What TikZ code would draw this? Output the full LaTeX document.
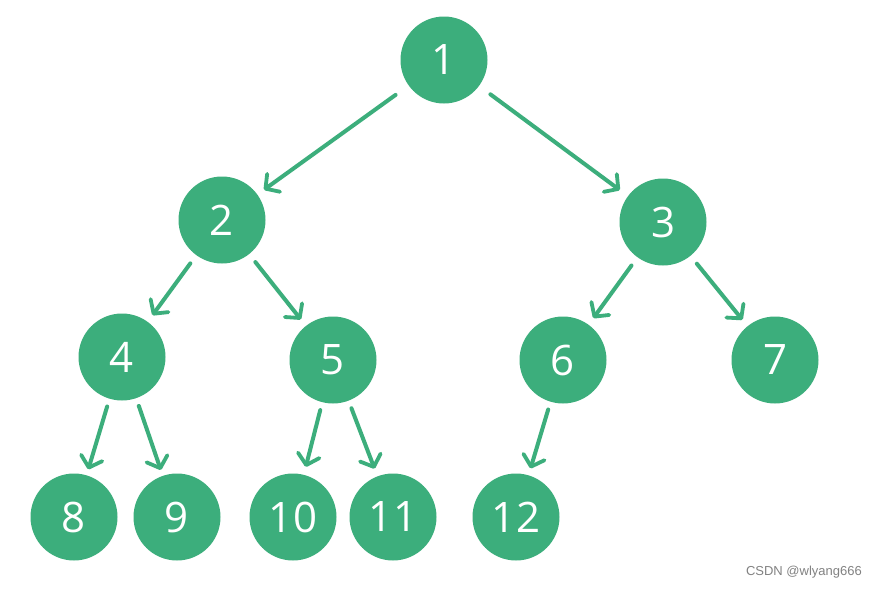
\documentclass[tikz,border=0pt]{standalone}
\usepackage{fontspec}
\setmainfont{Open Sans}
\newfontfamily\wmfont{Liberation Sans}
\usetikzlibrary{arrows.meta}
\definecolor{tgreen}{RGB}{60,174,124}
\definecolor{wmgray}{RGB}{130,130,130}
\tikzset{
  tnode/.style={circle, fill=tgreen, minimum size=87pt, inner sep=0pt,
    text=white, font=\fontsize{42}{42}\selectfont},
  tarrow/.style={draw=tgreen, line width=4pt, line cap=round,
    -{Straight Barb[length=10pt,width=22pt,line width=3.8pt,round]}},
}
\begin{document}
\begin{tikzpicture}[x=1pt,y=-1pt]
\useasboundingbox (0,0) rectangle (878,589);
\fill[white] (0,0) rectangle (878,589);
\node[tnode] (n1) at (444,60) {1};
\node[tnode] (n2) at (222,220) {2};
\node[tnode] (n3) at (663,222) {3};
\node[tnode] (n4) at (122,357) {4};
\node[tnode] (n5) at (333,360) {5};
\node[tnode] (n6) at (563,360) {6};
\node[tnode] (n7) at (775,360) {7};
\node[tnode] (n8) at (74,517) {8};
\node[tnode] (n9) at (177,517) {9};
\node[tnode] (n10) at (293,517) {10};
\node[tnode] (n11) at (393,517) {11};
\node[tnode] (n12) at (516,517) {12};
\draw[tarrow, shorten <=16pt, shorten >=8pt] (n1) -- (n2);
\draw[tarrow, shorten <=14pt, shorten >=10pt] (n1) -- (n3);
\draw[tarrow, shorten <=10pt, shorten >=8pt] (n2) -- (n4);
\draw[tarrow, shorten <=10pt, shorten >=8pt] (n2) -- (n5);
\draw[tarrow, shorten <=10pt, shorten >=8pt] (n3) -- (n6);
\draw[tarrow, shorten <=10pt, shorten >=8pt] (n3) -- (n7);
\draw[tarrow, shorten <=8pt, shorten >=6pt] (n4) -- (n8);
\draw[tarrow, shorten <=8pt, shorten >=6pt] (n4) -- (n9);
\draw[tarrow, shorten <=8pt, shorten >=8pt] (n5) -- (n10);
\draw[tarrow, shorten <=8pt, shorten >=8pt] (n5) -- (n11);
\draw[tarrow, shorten <=8pt, shorten >=7pt] (n6) -- (n12);
\node[anchor=east, text=wmgray, font=\wmfont\fontsize{13}{13}\selectfont, inner sep=0pt] (wm) at (862,572) {CSDN @wlyang666};
\end{tikzpicture}
\end{document}
